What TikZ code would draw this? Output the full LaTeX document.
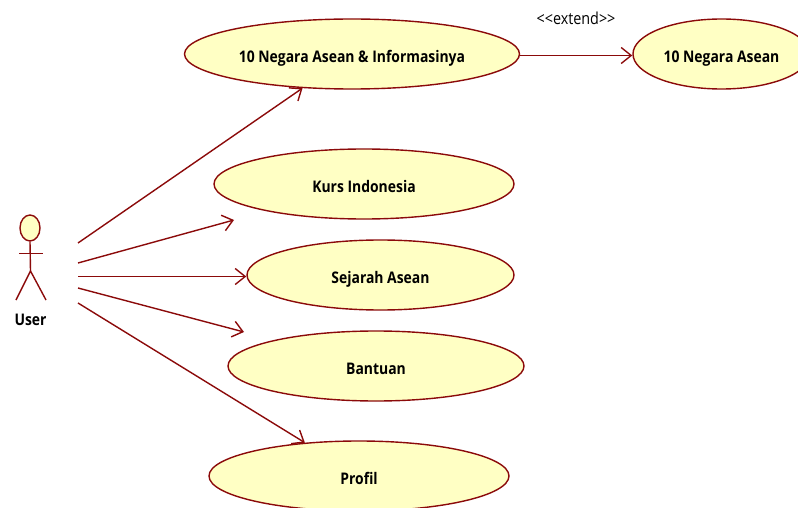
\documentclass[tikz,border=0pt]{standalone}
\usepackage{fontspec}
\setmainfont[FakeStretch=0.87]{Open Sans}
\usetikzlibrary{arrows.meta, shapes.geometric, positioning}
\definecolor{umlline}{HTML}{8B0A0A}
\definecolor{umlfill}{HTML}{FFFFC4}
\tikzset{
    usecase/.style={draw=umlline, fill=umlfill, line width=1.4pt, ellipse, inner sep=0pt, minimum height=70pt, text height=17pt, text depth=0pt, font=\fontsize{16}{18}\selectfont\bfseries},
    assoc/.style={draw=umlline, line width=1.4pt, -{Straight Barb[length=10pt,width=16pt]}},
    actorline/.style={draw=umlline, line width=1.4pt}
}
\begin{document}
\begin{tikzpicture}[x=1pt, y=-1pt]
    \useasboundingbox (0,0) rectangle (798,508);

    % Use cases
    \node[usecase, minimum width=335pt] (info) at (352,54) {10 Negara Asean \& Informasinya};
    \node[usecase, minimum width=300pt] (kurs) at (364,184) {Kurs Indonesia};
    \node[usecase, minimum width=267pt] (sejarah) at (380.5,275) {Sejarah Asean};
    \node[usecase, minimum width=296pt] (bantuan) at (376,366) {Bantuan};
    \node[usecase, minimum width=300pt] (profil) at (359,476) {Profil};
    \node[usecase, minimum width=177pt] (negara) at (721.5,54) {10 Negara Asean};

    % Actor
    \node[draw=umlline, fill=umlfill, line width=1.4pt, ellipse, inner sep=0pt, minimum width=20pt, minimum height=26pt] (head) at (30,228) {};
    \coordinate (hip) at (30.5,271);
    \coordinate (armL) at (19,253.5);
    \coordinate (armR) at (43,253.5);
    \coordinate (legL) at (16,300);
    \coordinate (legR) at (46,300);
    \draw[actorline] (head.south) -- (hip);
    \draw[actorline] (armL) -- (armR);
    \draw[actorline] (legL) -- (hip) -- (legR);
    \node[font=\fontsize{16}{18}\selectfont\bfseries] (user) at (30.5,320) {User};

    % Free ends of the associations
    \coordinate (u1) at (78,243);
    \coordinate (u2) at (78,263);
    \coordinate (u3) at (78,276.5);
    \coordinate (u4) at (78,288);
    \coordinate (u5) at (78,303);
    \coordinate (kursEnd) at (234,220);
    \coordinate (bantuanEnd) at (244,332);

    % Associations
    \draw[assoc] (u1) -- (info);
    \draw[assoc] (u2) -- (kursEnd);
    \draw[assoc] (u3) -- ([yshift=-1.5pt]sejarah.west);
    \draw[assoc] (u4) -- (bantuanEnd);
    \draw[assoc] (u5) -- (profil);

    % Extend
    \draw[assoc] ([yshift=-1.5pt]info.east) -- ([yshift=-1.5pt]negara.west);
    \node[font=\fontsize{16.5}{18}\selectfont] (ext) at (576,18) {<{}<extend>{}>};
\end{tikzpicture}
\end{document}
